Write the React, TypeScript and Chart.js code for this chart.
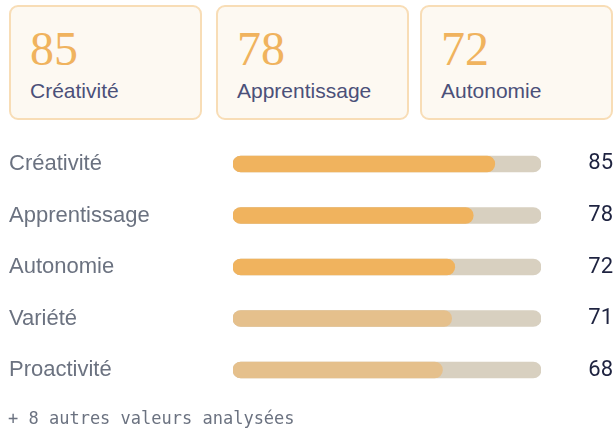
import React, { useEffect, useRef } from "react";
import { Chart, registerables } from "chart.js";

Chart.register(...registerables);

const categories = ["Créativité", "Apprentissage", "Autonomie", "Variété", "Proactivité"];
const scores = [85, 78, 72, 71, 68];
const topCount = 3;
const footerText = "+ 8 autres valeurs analysées";
const maxScore = 100;

const ORANGE = "#F0B35E";
const LIGHT = "#E5C08C";
const TRACK = "#D8D0C0";

export default function App() {
  const ref = useRef<HTMLCanvasElement | null>(null);

  useEffect(() => {
    const canvas = ref.current;
    if (!canvas) return;
    const chart = new Chart(canvas, {
      type: "bar",
      data: {
        labels: categories,
        datasets: [
          {
            data: scores,
            backgroundColor: scores.map((_, i) => (i < topCount ? ORANGE : LIGHT)),
            borderRadius: 8,
            borderSkipped: false,
            barThickness: 16,
            grouped: false,
            order: 1,
            yAxisID: "y",
          } as any,
          {
            data: scores.map(() => maxScore),
            backgroundColor: TRACK,
            borderRadius: 8,
            borderSkipped: false,
            barThickness: 16,
            grouped: false,
            order: 2,
            yAxisID: "y",
          } as any,
        ],
      },
      options: {
        indexAxis: "y",
        responsive: false,
        animation: false,
        layout: { padding: { left: 9, right: 2, top: 0, bottom: 0 } },
        plugins: { legend: { display: false }, tooltip: { enabled: false } },
        scales: {
          x: { min: 0, max: maxScore, display: false },
          y: {
            position: "left",
            grid: { display: false },
            border: { display: false },
            ticks: {
              crossAlign: "far",
              padding: 0,
              color: "#6B7280",
              font: { family: "'Liberation Sans', Arial, sans-serif", size: 22 },
            },
            afterFit: (s: any) => {
              s.width = 224;
            },
          },
          y2: {
            type: "category",
            position: "right",
            labels: scores.map(String),
            grid: { display: false },
            border: { display: false },
            ticks: {
              crossAlign: "far",
              padding: 0,
              color: "#1E2340",
              font: { family: "Roboto, sans-serif", size: 22 },
            },
            afterFit: (s: any) => {
              s.width = 72;
            },
          },
        } as any,
      },
    });
    return () => chart.destroy();
  }, []);

  const cardLefts = [9, 216, 420];

  return (
    <div style={{ position: "absolute", left: 0, top: 0, width: 615, height: 431, overflow: "hidden", background: "#FFFFFF" }}>
      {categories.slice(0, topCount).map((c, i) => (
        <div
          key={c}
          style={{
            position: "absolute",
            left: cardLefts[i],
            top: 5,
            width: 193,
            height: 115,
            boxSizing: "border-box",
            border: "2px solid #F8DDB6",
            borderRadius: 9,
            background: "#FDF9F2",
          }}
        >
          <div
            style={{
              position: "absolute",
              left: 19,
              top: 18,
              fontFamily: "'Liberation Serif', serif",
              fontSize: 48,
              lineHeight: "48px",
              color: ORANGE,
              whiteSpace: "nowrap",
            }}
          >
            {scores[i]}
          </div>
          <div
            style={{
              position: "absolute",
              left: 19,
              top: 73,
              fontFamily: "'Liberation Sans', Arial, sans-serif",
              fontSize: 21,
              lineHeight: "21px",
              color: "#4B5079",
              whiteSpace: "nowrap",
            }}
          >
            {c}
          </div>
        </div>
      ))}
      <canvas
        ref={ref}
        width={615}
        height={284}
        style={{ position: "absolute", left: 0, top: 125, width: 615, height: 284 }}
      />
      <div
        style={{
          position: "absolute",
          left: 8,
          top: 408,
          fontFamily: "'DejaVu Sans Mono', monospace",
          fontSize: 17,
          lineHeight: "20px",
          color: "#6B7280",
          whiteSpace: "nowrap",
        }}
      >
        {footerText}
      </div>
    </div>
  );
}
